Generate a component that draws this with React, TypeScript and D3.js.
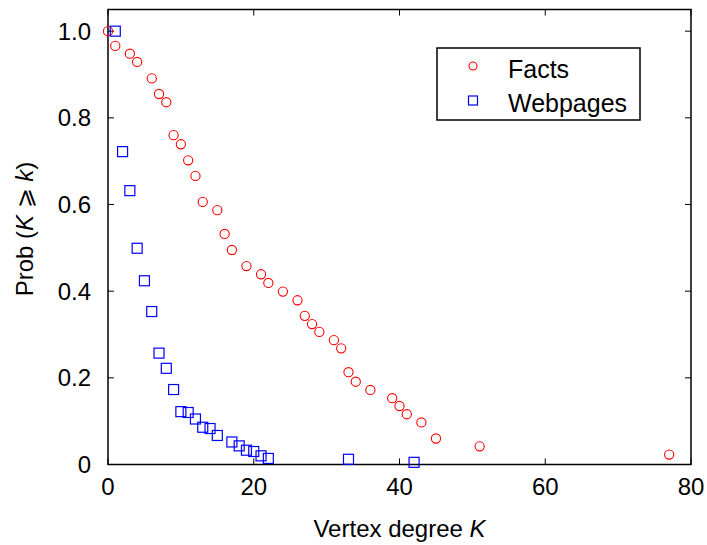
import { useEffect, useRef } from 'react';
import * as d3 from 'd3';

// Facts: grado K y probabilidad acumulada
const factsK = [0, 1, 3, 4, 6, 7, 8, 9, 10, 11, 12, 13, 15, 16, 17, 19, 21, 22, 24, 26, 27, 28, 29, 31, 32, 33, 34, 36, 39, 40, 41, 43, 45, 51, 77];
const factsP = [1.0, 0.966, 0.948, 0.929, 0.891, 0.855, 0.836, 0.76, 0.739, 0.702, 0.666, 0.606, 0.587, 0.532, 0.495, 0.458, 0.439, 0.419, 0.399, 0.379, 0.343, 0.324, 0.306, 0.287, 0.268, 0.213, 0.191, 0.172, 0.153, 0.135, 0.116, 0.097, 0.06, 0.042, 0.023];
// Webpages
const webK = [1, 2, 3, 4, 5, 6, 7, 8, 9, 10, 11, 12, 13, 14, 15, 17, 18, 19, 20, 21, 22, 33, 42];
const webP = [1.0, 0.722, 0.632, 0.499, 0.424, 0.353, 0.257, 0.222, 0.173, 0.122, 0.12, 0.105, 0.086, 0.083, 0.067, 0.052, 0.043, 0.033, 0.03, 0.02, 0.014, 0.012, 0.005];

const xTicks = [0, 20, 40, 60, 80];
const yTicks = [0, 0.2, 0.4, 0.6, 0.8, 1.0];
const yTickLabels = ['0', '0.2', '0.4', '0.6', '0.8', '1.0'];

const FONT = '"Liberation Sans", Arial, Helvetica, sans-serif';

export default function App() {
  const ref = useRef<SVGSVGElement>(null);
  const width = 707;
  const height = 545;

  useEffect(() => {
    const svg = d3.select(ref.current);
    svg.selectAll('*').remove();
    const left = 108, right = 691, top = 9.5, bottom = 464.5;
    const x = d3.scaleLinear().domain([0, 80]).range([left, right]);
    const y = d3.scaleLinear().domain([0, 1.05]).range([bottom, top]);
    const tick = 6;

    // marco
    svg.append('rect')
      .attr('x', left).attr('y', top)
      .attr('width', right - left).attr('height', bottom - top)
      .attr('fill', 'none').attr('stroke', '#000').attr('stroke-width', 1.5);

    // ticks x (abajo y arriba, hacia dentro)
    xTicks.forEach(t => {
      svg.append('line').attr('x1', x(t)).attr('x2', x(t)).attr('y1', bottom).attr('y2', bottom - tick).attr('stroke', '#000').attr('stroke-width', 1);
      svg.append('line').attr('x1', x(t)).attr('x2', x(t)).attr('y1', top).attr('y2', top + tick).attr('stroke', '#000').attr('stroke-width', 1);
      svg.append('text')
        .attr('x', x(t)).attr('y', 495)
        .attr('text-anchor', 'middle')
        .attr('font-family', FONT).attr('font-size', 24).attr('fill', '#000')
        .text(String(t));
    });
    // ticks y
    yTicks.forEach((t, i) => {
      svg.append('line').attr('x1', left).attr('x2', left + tick).attr('y1', y(t)).attr('y2', y(t)).attr('stroke', '#000').attr('stroke-width', 1);
      svg.append('line').attr('x1', right).attr('x2', right - tick).attr('y1', y(t)).attr('y2', y(t)).attr('stroke', '#000').attr('stroke-width', 1);
      svg.append('text')
        .attr('x', 91).attr('y', y(t)).attr('dy', '0.35em')
        .attr('text-anchor', 'end')
        .attr('font-family', FONT).attr('font-size', 24).attr('fill', '#000')
        .text(yTickLabels[i]);
    });

    // titulos de ejes
    const xt = svg.append('text')
      .attr('x', (left + right) / 2).attr('y', 537)
      .attr('text-anchor', 'middle')
      .attr('font-family', FONT).attr('font-size', 24).attr('fill', '#000');
    xt.append('tspan').text('Vertex degree ');
    xt.append('tspan').attr('font-style', 'italic').text('K');

    const yt = svg.append('text')
      .attr('transform', 'translate(33,229) rotate(-90)')
      .attr('text-anchor', 'middle')
      .attr('font-family', FONT).attr('font-size', 24).attr('fill', '#000');
    yt.append('tspan').text('Prob (');
    yt.append('tspan').attr('font-style', 'italic').text('K');
    yt.append('tspan').text(' \u2A7E ');
    yt.append('tspan').attr('font-style', 'italic').text('k');
    yt.append('tspan').text(')');

    // puntos Facts
    svg.append('g')
      .selectAll('circle')
      .data(factsK.map((k, i) => ({ k, p: factsP[i] })))
      .join('circle')
      .attr('cx', d => x(d.k))
      .attr('cy', d => y(d.p))
      .attr('r', 4.6)
      .attr('fill', 'none')
      .attr('stroke', '#ff0000')
      .attr('stroke-width', 1.1);

    // puntos Webpages
    const s = 10;
    svg.append('g')
      .selectAll('rect')
      .data(webK.map((k, i) => ({ k, p: webP[i] })))
      .join('rect')
      .attr('x', d => x(d.k) - s / 2)
      .attr('y', d => y(d.p) - s / 2)
      .attr('width', s).attr('height', s)
      .attr('fill', 'none')
      .attr('stroke', '#0000ff')
      .attr('stroke-width', 1.2);

    // leyenda
    const lg = svg.append('g');
    lg.append('rect')
      .attr('x', 437).attr('y', 48).attr('width', 203).attr('height', 72)
      .attr('fill', '#fff').attr('stroke', '#000').attr('stroke-width', 1.5);
    lg.append('circle').attr('cx', 473).attr('cy', 66).attr('r', 4)
      .attr('fill', 'none').attr('stroke', '#ff0000').attr('stroke-width', 1.1);
    lg.append('rect').attr('x', 468.5).attr('y', 96).attr('width', 9).attr('height', 9)
      .attr('fill', 'none').attr('stroke', '#0000ff').attr('stroke-width', 1.2);
    lg.append('text').attr('x', 508).attr('y', 77.5)
      .attr('font-family', FONT).attr('font-size', 25).attr('fill', '#000').text('Facts');
    lg.append('text').attr('x', 508).attr('y', 111.5)
      .attr('font-family', FONT).attr('font-size', 25).attr('fill', '#000').text('Webpages');
  }, []);

  return (
    <svg
      ref={ref}
      width={width}
      height={height}
      style={{ position: 'absolute', left: 0, top: 0, background: '#fff', display: 'block' }}
    />
  );
}
